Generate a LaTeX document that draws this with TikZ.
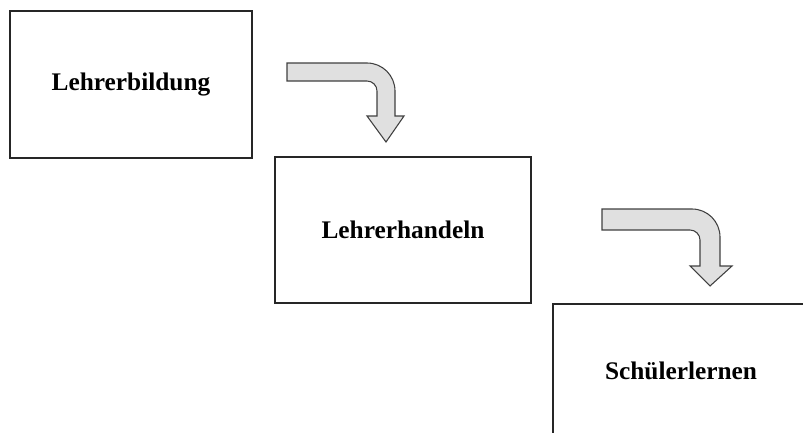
\documentclass[tikz,border=0pt]{standalone}
\usepackage{fontspec}
\setmainfont{Liberation Serif}
\usepackage{tikz}
\usetikzlibrary{positioning}

\begin{document}
\begin{tikzpicture}[x=0.75pt, y=-0.75pt,
    stage/.style={rectangle, draw=black!85, line width=1pt, fill=white,
    text centered, font=\bfseries\fontsize{19}{23}\selectfont},
    bentarrow/.style={draw=black!75, line width=0.8pt, fill=black!12, line join=miter}]
    \useasboundingbox (0,0) rectangle (803,432);

    \node (bildung) [stage, minimum width=181.5pt, minimum height=110.25pt] at (131,84.5) {Lehrerbildung};
    \node (handeln) [stage, minimum width=192pt, minimum height=109.5pt] at (403,230) {Lehrerhandeln};
    \node (lernen) [stage, minimum width=192pt, minimum height=100.5pt] at (681,371) {Schülerlernen};

    % Pfeil Bildung -> Handeln
    \draw [bentarrow] (287,63) -- (367,63) arc[start angle=-90, end angle=0, radius=28]
        -- (395,116) -- (404,116) -- (386,142) -- (367,116) -- (377,116) -- (377,91)
        arc[start angle=0, end angle=-90, radius=10] -- (287,81) -- cycle;

    % Pfeil Handeln -> Lernen
    \draw [bentarrow] (602,209) -- (692,209) arc[start angle=-90, end angle=0, radius=28]
        -- (720,266) -- (732,266) -- (710,286) -- (690,266) -- (700,266) -- (700,240)
        arc[start angle=0, end angle=-90, radius=10] -- (602,230) -- cycle;
\end{tikzpicture}
\end{document}
